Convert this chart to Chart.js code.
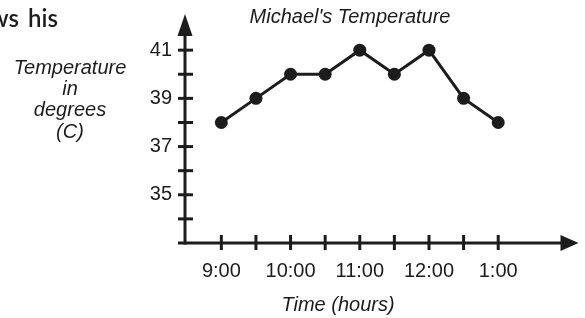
<!DOCTYPE html>
<html>
<head>
<meta charset="utf-8">
<script src="https://cdn.jsdelivr.net/npm/chart.js@4.4.1/dist/chart.umd.min.js"></script>
<style>
  body { margin: 0; background: #fff; }
  #wrap { position: relative; width: 585px; height: 318px; }
</style>
</head>
<body>
<div id="wrap"><canvas id="myChart"></canvas></div>
<script>
// half-hour readings, 9:00 to 1:00
const times = ['9:00', '9:30', '10:00', '10:30', '11:00', '11:30', '12:00', '12:30', '1:00'];
const temps = [38, 39, 40, 40, 41, 40, 41, 39, 38];
const tempLabels = [35, 37, 39, 41]; // only these get a number on the y axis
const yTitle = ['Temperature', 'in', 'degrees', '(C)'];

const ink = '#1c1c1c';
const font = '"Liberation Sans", Arial, sans-serif';

// axes are drawn by hand so the tick marks cross the line and end in arrows
const axesPlugin = {
  id: 'handAxes',
  beforeDatasetsDraw(chart) {
    const {ctx, chartArea: a, scales: {x, y}} = chart;
    const y0 = a.bottom, x0 = a.left;
    ctx.save();
    ctx.strokeStyle = ink;
    ctx.fillStyle = ink;
    ctx.lineWidth = 3;
    ctx.lineCap = 'butt';

    // y axis line + arrow
    ctx.beginPath();
    ctx.moveTo(x0, y0 + 1.5);
    ctx.lineTo(x0, a.top + 20);
    ctx.stroke();
    ctx.beginPath();
    ctx.moveTo(x0, a.top);
    ctx.lineTo(x0 - 7.5, a.top + 22);
    ctx.lineTo(x0 + 7.5, a.top + 22);
    ctx.closePath();
    ctx.fill();

    // x axis line + arrow
    ctx.beginPath();
    ctx.moveTo(x0 - 7, y0);
    ctx.lineTo(a.right - 16, y0);
    ctx.stroke();
    ctx.beginPath();
    ctx.moveTo(a.right, y0);
    ctx.lineTo(a.right - 18, y0 - 8);
    ctx.lineTo(a.right - 18, y0 + 8);
    ctx.closePath();
    ctx.fill();

    // y tick marks, every degree
    y.ticks.forEach(t => {
      if (t.value % 1 !== 0 || t.value <= y.min || t.value > 41) return;
      const py = y.getPixelForValue(t.value);
      ctx.beginPath();
      ctx.moveTo(x0 - 7, py);
      ctx.lineTo(x0 + 8, py);
      ctx.stroke();
    });

    // x tick marks, every half hour
    x.ticks.forEach(t => {
      if (t.value < 0 || t.value >= times.length) return;
      const px = x.getPixelForValue(t.value);
      ctx.beginPath();
      ctx.moveTo(px, y0 - 8);
      ctx.lineTo(px, y0 + 7);
      ctx.stroke();
    });
    ctx.restore();
  },
  afterDraw(chart) {
    const {ctx} = chart;
    ctx.save();
    ctx.fillStyle = ink;
    ctx.textAlign = 'center';
    ctx.textBaseline = 'alphabetic';

    ctx.font = 'italic 20px ' + font;
    ctx.fillText("Michael's Temperature", 350, 23);
    ctx.fillText('Time (hours)', 338, 311);
    const base = [74, 95, 116, 138];
    yTitle.forEach((line, i) => ctx.fillText(line, 70, base[i]));

    // leftover words from the worksheet sentence, cut by the crop
    ctx.textAlign = 'right';
    ctx.font = '600 24px Lato, sans-serif';
    ctx.fillText('ows', 19, 27);
    ctx.fillText('his', 58, 27);
    ctx.restore();
  }
};

const data = {
  datasets: [{
    data: temps.map((t, i) => ({x: i, y: t})),
    borderColor: ink,
    backgroundColor: ink,
    borderWidth: 3,
    pointRadius: 6.5,
    pointBackgroundColor: ink,
    pointBorderWidth: 0,
    tension: 0,
    clip: false
  }]
};

const config = {
  type: 'line',
  data: data,
  options: {
    responsive: true,
    maintainAspectRatio: false,
    animation: false,
    events: [],
    layout: { padding: { top: 14, right: 5, left: 0, bottom: 0 } },
    plugins: {
      legend: { display: false },
      tooltip: { enabled: false }
    },
    scales: {
      x: {
        type: 'linear',
        min: -1.05,
        max: 10.32,
        afterFit: s => { s.height = 75; s.paddingLeft = 0; s.paddingRight = 0; },
        border: { display: false },
        grid: { display: false, drawTicks: false },
        ticks: {
          stepSize: 1,
          autoSkip: false,
          maxRotation: 0,
          padding: 16,
          color: ink,
          font: { family: font, size: 20 },
          callback: v => (Number.isInteger(v) && times[v] && times[v].endsWith(':00')) ? times[v] : ''
        }
      },
      y: {
        min: 33,
        max: 42.5,
        afterFit: s => { s.width = 185; s.paddingTop = 0; s.paddingBottom = 0; },
        border: { display: false },
        grid: { display: false, drawTicks: false },
        ticks: {
          stepSize: 1,
          autoSkip: false,
          padding: 13,
          color: ink,
          font: { family: font, size: 20 },
          callback: v => tempLabels.includes(v) ? String(v) : ''
        }
      }
    }
  },
  plugins: [axesPlugin]
};

new Chart(document.getElementById('myChart'), config);
</script>
</body>
</html>
